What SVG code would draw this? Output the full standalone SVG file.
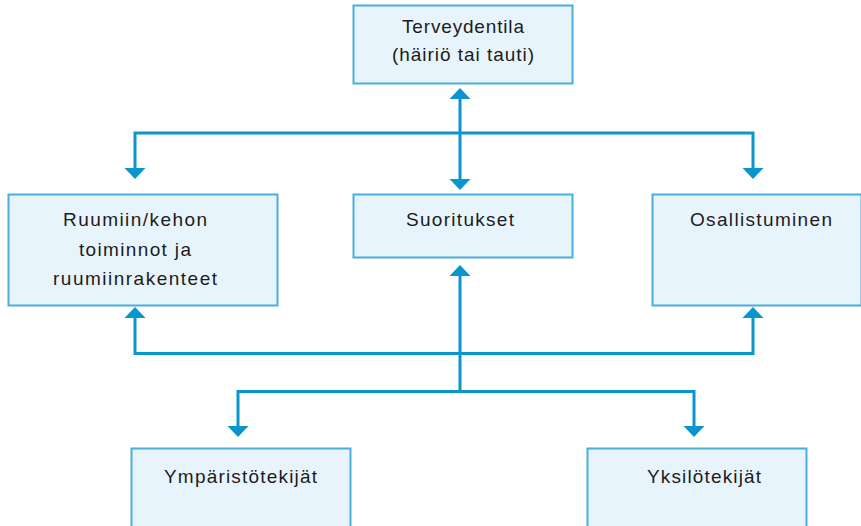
<svg xmlns="http://www.w3.org/2000/svg" width="861" height="526" viewBox="0 0 861 526">
<style>
.box{fill:#e8f4fc;stroke:#4aaedd;stroke-width:2}
.t{font-family:"Liberation Sans",Arial,sans-serif;font-size:19px;fill:#1c1c1c;text-anchor:middle}
.ln{fill:none;stroke:#0a95cd;stroke-width:3}
.ah{fill:#0a95cd}
</style>
<rect width="861" height="526" fill="#ffffff"/>
<g id="connectors">
<path class="ln" d="M460,97 V180"/>
<path class="ln" d="M135,169 V133 H753 V169"/>
<path class="ln" d="M135,317 V353.5 H753 V317"/>
<path class="ln" d="M460,275 V391"/>
<path class="ln" d="M238,427 V391.5 H694 V427"/>
<polygon class="ah" points="460,88 470.5,99 449.5,99"/>
<polygon class="ah" points="460,190 470.5,179 449.5,179"/>
<polygon class="ah" points="135,179 145.5,168 124.5,168"/>
<polygon class="ah" points="753,179 763.5,168 742.5,168"/>
<polygon class="ah" points="460,265 470.5,276 449.5,276"/>
<polygon class="ah" points="135,307 145.5,318 124.5,318"/>
<polygon class="ah" points="753,307 763.5,318 742.5,318"/>
<polygon class="ah" points="238,437 248.5,426 227.5,426"/>
<polygon class="ah" points="694,437 704.5,426 683.5,426"/>
</g>
<g id="terveydentila">
<rect class="box" x="353.5" y="5.5" width="219" height="78"/>
<text class="t" x="463" y="33" textLength="122" lengthAdjust="spacing">Terveydentila</text>
<text class="t" x="463" y="61" textLength="142" lengthAdjust="spacing">(häiriö tai tauti)</text>
</g>
<g id="ruumiin">
<rect class="box" x="8.5" y="194.5" width="269" height="111"/>
<text class="t" x="135" y="226" textLength="144" lengthAdjust="spacing">Ruumiin/kehon</text>
<text class="t" x="135" y="255.5" textLength="112" lengthAdjust="spacing">toiminnot ja</text>
<text class="t" x="135" y="285" textLength="164" lengthAdjust="spacing">ruumiinrakenteet</text>
</g>
<g id="suoritukset">
<rect class="box" x="353.5" y="194.5" width="219" height="63"/>
<text class="t" x="460" y="226" textLength="108" lengthAdjust="spacing">Suoritukset</text>
</g>
<g id="osallistuminen">
<rect class="box" x="652.5" y="194.5" width="209" height="111"/>
<text class="t" x="761" y="226" textLength="142" lengthAdjust="spacing">Osallistuminen</text>
</g>
<g id="ymparistotekijat">
<rect class="box" x="131.5" y="448.5" width="219" height="90"/>
<text class="t" x="240.5" y="483" textLength="153" lengthAdjust="spacing">Ympäristötekijät</text>
</g>
<g id="yksilotekijat">
<rect class="box" x="587.5" y="448.5" width="219" height="90"/>
<text class="t" x="704" y="483" textLength="114" lengthAdjust="spacing">Yksilötekijät</text>
</g>
</svg>
